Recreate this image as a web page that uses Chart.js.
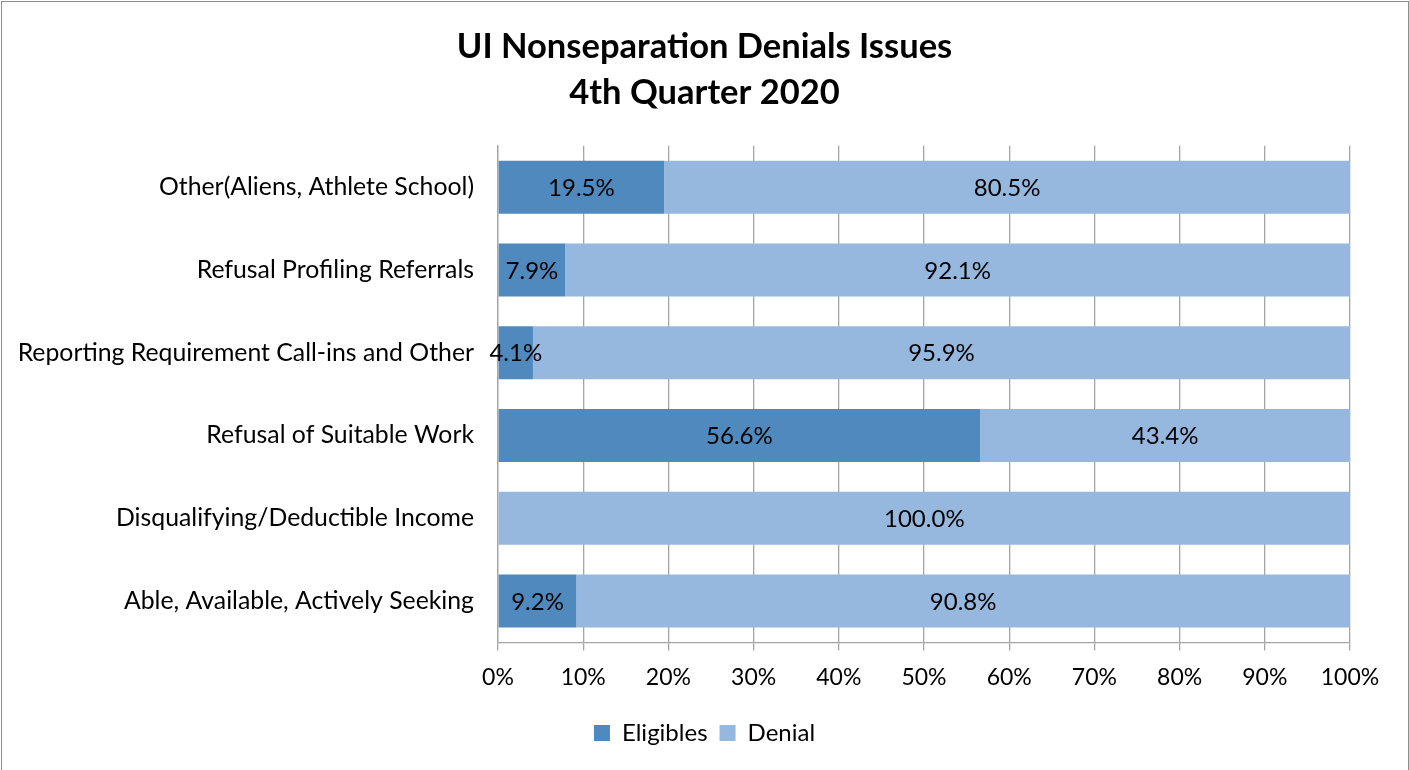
<!DOCTYPE html>
<html lang="en">
  <head>
    <meta charset="UTF-8" />
    <title>UI Nonseparation Denials Issues</title>
    <style>
      body {
        margin: 0;
        background: #fff;
      }
      #wrap {
        position: absolute;
        left: 0;
        top: 0;
        width: 1409px;
        height: 770px;
      }
      #frame {
        position: absolute;
        left: 1px;
        top: 1px;
        width: 1406px;
        height: 780px;
        border: 1px solid #8e8e8e;
        pointer-events: none;
      }
    </style>
  </head>
  <body>
    <div id="wrap">
      <canvas id="issuesChart" width="1409" height="770"></canvas>
      <div id="frame"></div>
    </div>
    <script src="https://cdn.jsdelivr.net/npm/chart.js"></script>
    <script>
      const categories = [
        "Other(Aliens, Athlete School)",
        "Refusal Profiling Referrals",
        "Reporting Requirement Call-ins and Other",
        "Refusal of Suitable Work",
        "Disqualifying/Deductible Income",
        "Able, Available, Actively Seeking",
      ];
      const eligibles = [19.5, 7.9, 4.1, 56.6, 0.0, 9.2];
      const denial = [80.5, 92.1, 95.9, 43.4, 100.0, 90.8];
      const titleLines = ["UI Nonseparation Denials Issues", "4th Quarter 2020"];

      const FONT = "Lato, 'Liberation Sans', sans-serif";

      // labels in the middle of each bar segment
      const segmentLabels = {
        id: "segmentLabels",
        afterDatasetsDraw(chart) {
          const ctx = chart.ctx;
          ctx.save();
          ctx.font = "24px " + FONT;
          ctx.fillStyle = "#000";
          ctx.textAlign = "center";
          ctx.textBaseline = "middle";
          chart.data.datasets.forEach((ds, i) => {
            const meta = chart.getDatasetMeta(i);
            meta.data.forEach((bar, j) => {
              const v = ds.data[j];
              if (!v) return;
              const p = bar.getCenterPoint();
              ctx.fillText(v.toFixed(1) + "%", p.x, p.y + 1);
            });
          });
          ctx.restore();
        },
      };

      const ctx = document.getElementById("issuesChart").getContext("2d");
      new Chart(ctx, {
        type: "bar",
        data: {
          labels: categories,
          datasets: [
            {
              label: "Eligibles",
              data: eligibles,
              backgroundColor: "#4f89bd",
              barPercentage: 0.8,
              categoryPercentage: 0.8,
            },
            {
              label: "Denial",
              data: denial,
              backgroundColor: "#97b8de",
              barPercentage: 0.8,
              categoryPercentage: 0.8,
            },
          ],
        },
        options: {
          indexAxis: "y",
          responsive: false,
          animation: false,
          devicePixelRatio: 1,
          layout: { padding: { left: 0, right: 0, top: 0, bottom: 15 } },
          plugins: {
            title: {
              display: true,
              text: titleLines,
              color: "#000",
              font: { family: FONT, size: 34.5, weight: "bold", lineHeight: 1.33 },
              padding: { top: 24, bottom: 30 },
            },
            legend: {
              position: "bottom",
              labels: {
                color: "#000",
                font: { family: FONT, size: 24 },
                boxWidth: 16,
                boxHeight: 16,
                padding: 12,
              },
            },
            tooltip: { enabled: false },
          },
          scales: {
            x: {
              stacked: true,
              min: 0,
              max: 100,
              afterFit: (scale) => {
                scale.height += 5;
              },
              ticks: {
                stepSize: 10,
                color: "#000",
                font: { family: FONT, size: 23 },
                padding: 13,
                callback: (v) => v + "%",
              },
              grid: {
                color: "#a5a5a5",
                lineWidth: 1.3,
                tickLength: 8,
                tickColor: "#a5a5a5",
              },
              border: { color: "#a5a5a5", width: 1.3 },
            },
            y: {
              stacked: true,
              afterFit: (scale) => {
                scale.width = 498;
              },
              ticks: {
                color: "#000",
                font: { family: FONT, size: 24.8 },
                padding: 24,
              },
              grid: { display: false, drawTicks: false },
              border: { color: "#a5a5a5", width: 1.3 },
            },
            // empty right-hand strip so title and legend centre on the canvas
            y2: {
              type: "category",
              position: "right",
              afterFit: (scale) => {
                scale.width = 59;
              },
              ticks: { display: false },
              grid: { display: false, drawTicks: false },
              border: { display: false },
            },
          },
        },
        plugins: [segmentLabels],
      });
    </script>
  </body>
</html>
